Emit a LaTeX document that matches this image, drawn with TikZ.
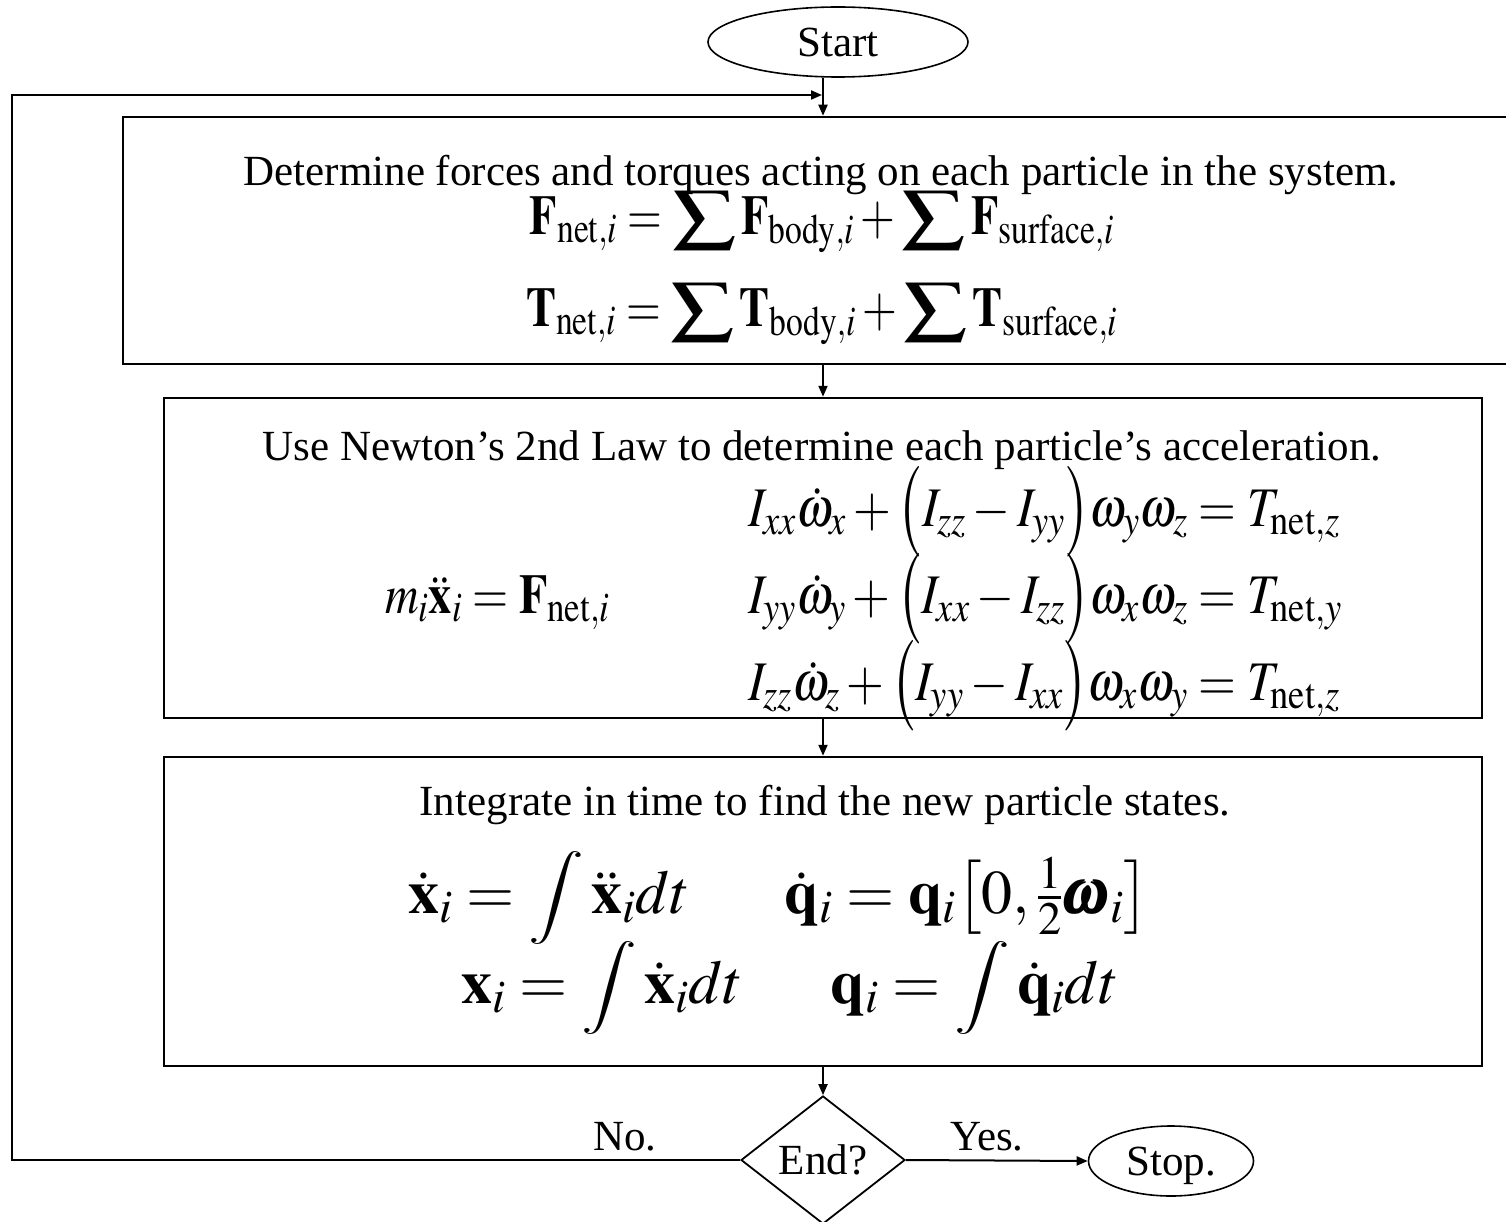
\documentclass[tikz,border=0pt]{standalone}
\usepackage{amsmath}
\usepackage{mathptmx}
\usepackage{fontspec}
\setmainfont{Liberation Serif}
\usetikzlibrary{shapes.geometric,arrows.meta}
\renewcommand{\defaultscriptratio}{.75}
\newcommand{\BS}{\mathop{\vcenter{\hbox{\scalebox{1.4}[0.85]{$\displaystyle\sum$}}}}}
\newcommand{\BI}{\mathop{\vcenter{\hbox{\scalebox{1}[0.75]{$\displaystyle\int$}}}}}
\newcommand{\LP}{\mathopen{\vcenter{\hbox{\scalebox{1.1}[1.35]{$\bigl($}}}}}
\newcommand{\RP}{\mathclose{\vcenter{\hbox{\scalebox{1.1}[1.35]{$\bigr)$}}}}}
\begin{document}
\begin{tikzpicture}[x=1pt,y=-1pt,
  box/.style={draw,line width=2.5pt,rectangle,inner sep=0pt},
  conn/.style={line width=2pt,-{Triangle[length=11pt,width=9pt]}},
  lbl/.style={inner sep=0pt,font=\fontsize{43}{50}\selectfont},
  big/.style={inner sep=0pt,font=\fontsize{62}{70}\selectfont},
  term/.style={draw,ellipse,line width=1.6pt,inner sep=0pt,text depth=0pt,font=\fontsize{43}{50}\selectfont},
  ]
\useasboundingbox (0,0) rectangle (1506,1222);
\clip (0,0) rectangle (1506,1222);
% terminals
\node[term,minimum width=260pt,minimum height=70pt] (start) at (838,42) {Start};
\node[term,minimum width=165pt,minimum height=70pt] (stop) at (1171,1161) {Stop.};
% boxes
\node[box,minimum width=1385pt,minimum height=247pt] (b1) at (815.5,240.5) {};
\node[box,minimum width=1318pt,minimum height=320pt] (b2) at (823,558) {};
\node[box,minimum width=1318pt,minimum height=309pt] (b3) at (823,911.5) {};
\node[draw,diamond,line width=1.8pt,minimum width=164pt,minimum height=128pt,inner sep=0pt,font=\fontsize{43}{50}\selectfont] (end) at (823,1160) {End?};
% box 1 content
\node[lbl,anchor=base] (t1) at (821,186) {Determine forces and torques acting on each particle in the system.};
\node[lbl] (e1) at (822,222) {\scalebox{1.04}[1.3]{$\mathbf{F}_{\mathrm{net},i} = \BS \mathbf{F}_{\mathrm{body},i} + \BS \mathbf{F}_{\mathrm{surface},i}$}};
\node[lbl] (e2) at (822,314) {\scalebox{1.04}[1.3]{$\mathbf{T}_{\mathrm{net},i} = \BS \mathbf{T}_{\mathrm{body},i} + \BS \mathbf{T}_{\mathrm{surface},i}$}};
% box 2 content
\node[lbl,anchor=base] (t2) at (822,460) {Use Newton’s 2nd Law to determine each particle’s acceleration.};
\node[lbl,anchor=base west] (newton) at (385,613) {\scalebox{1.08}[1.3]{$m_i\ddot{\mathbf{x}}_i = \mathbf{F}_{\mathrm{net},i}$}};
\node[lbl,anchor=base west] (eu1) at (748,526) {\scalebox{1.13}[1.3]{$I_{xx}\dot{\omega}_x + \LP I_{zz} - I_{yy}\RP\omega_y\omega_z = T_{\mathrm{net},z}$}};
\node[lbl,anchor=base west] (eu2) at (748,613) {\scalebox{1.13}[1.3]{$I_{yy}\dot{\omega}_y + \LP I_{xx} - I_{zz}\RP\omega_x\omega_z = T_{\mathrm{net},y}$}};
\node[lbl,anchor=base west] (eu3) at (748,700) {\scalebox{1.13}[1.3]{$I_{zz}\dot{\omega}_z + \LP I_{yy} - I_{xx}\RP\omega_x\omega_y = T_{\mathrm{net},z}$}};
% box 3 content
\node[lbl,anchor=base] (t3) at (825,815) {Integrate in time to find the new particle states.};
\node[big,anchor=base] (r1a) at (549,913) {$\dot{\mathbf{x}}_i = \BI \ddot{\mathbf{x}}_i dt$};
\node[big,anchor=base] (r1b) at (967,913) {$\dot{\mathbf{q}}_i = \mathbf{q}_i\bigl[0,\tfrac{1}{2}\pmb{\omega}_i\bigr]$};
\node[big,anchor=base] (r2a) at (602,1003) {$\mathbf{x}_i = \BI \dot{\mathbf{x}}_i dt$};
\node[big,anchor=base] (r2b) at (975,1003) {$\mathbf{q}_i = \BI \dot{\mathbf{q}}_i dt$};
% labels
\node[lbl,anchor=base] (no) at (625,1150) {No.};
\node[lbl,anchor=base] (yes) at (987,1150) {Yes.};
% connectors
\coordinate (fb) at (12,95);
\coordinate (jn) at (822,95);
\draw[conn] (start.south -| b2.north) -- (b1.north -| b2.north);
\draw[conn] (end.west) -| (fb) -- (jn);
\draw[conn] (b1.south -| b2.north) -- (b2.north);
\draw[conn] (b2.south) -- (b3.north);
\draw[conn] (b3.south) -- (end.north);
\draw[conn] (end.east) -- (stop.west);
\end{tikzpicture}
\end{document}
